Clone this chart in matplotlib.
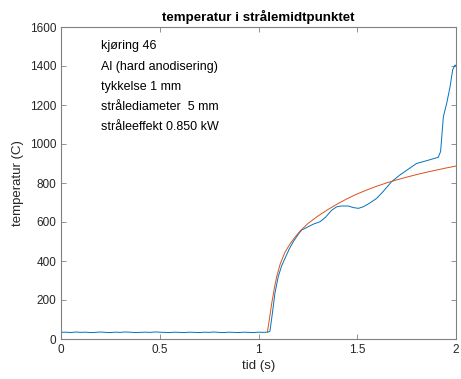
import matplotlib
matplotlib.use('Agg')
import matplotlib.pyplot as plt

plt.rcParams['font.family'] = ['Liberation Sans', 'DejaVu Sans']

# measured temperature (blue)
t_meas = [0.0, 0.025, 0.05, 0.075, 0.1, 0.125, 0.15, 0.175, 0.2, 0.225, 0.25, 0.275,
          0.3, 0.325, 0.35, 0.375, 0.4, 0.425, 0.45, 0.475, 0.5, 0.525, 0.55, 0.575,
          0.6, 0.625, 0.65, 0.675, 0.7, 0.725, 0.75, 0.775, 0.8, 0.825, 0.85, 0.875,
          0.9, 0.925, 0.95, 0.975, 1.0, 1.025, 1.05,
          1.058, 1.07, 1.083, 1.1, 1.117, 1.134, 1.155, 1.176, 1.2, 1.219, 1.25, 1.28,
          1.311, 1.34, 1.37, 1.396, 1.42, 1.455, 1.48, 1.506, 1.53, 1.56, 1.598, 1.63,
          1.674, 1.716, 1.75, 1.8, 1.85, 1.91, 1.922, 1.936, 1.953, 1.97, 1.983, 1.995, 2.0]
T_meas = [34, 35, 33, 36, 34, 35, 33, 34, 36, 34, 33, 35,
          34, 36, 35, 33, 34, 35, 34, 36, 35, 34, 33, 35,
          34, 33, 35, 34, 33, 35, 34, 36, 34, 33, 35, 34,
          33, 35, 34, 33, 35, 34, 36,
          40, 130, 234, 320, 375, 413, 460, 499, 535, 559, 575, 590,
          601, 625, 660, 678, 682, 682, 674, 670, 678, 695, 721, 755,
          807, 841, 865, 900, 914, 932, 961, 1140, 1209, 1294, 1380, 1405, 1400]

# model curve (red)
t_model = [1.045, 1.055, 1.067, 1.08, 1.092, 1.11, 1.134, 1.16, 1.185, 1.21, 1.25,
           1.3, 1.35, 1.4, 1.45, 1.5, 1.55, 1.6, 1.65, 1.7, 1.75, 1.8, 1.85, 1.9,
           1.95, 2.0]
T_model = [35, 100, 183, 260, 319, 385, 445, 488, 523, 553, 592,
           630, 663, 693, 720, 744, 765, 784, 801, 816, 830, 843, 855, 866,
           877, 887]

notes = ['kjøring 46', 'Al (hard anodisering)', 'tykkelse 1 mm',
         'strålediameter  5 mm', 'stråleeffekt 0.850 kW']

fig = plt.figure(figsize=(4.61, 3.79), dpi=100)
ax = fig.add_axes([61/461, 40/379, 395/461, 312/379])

ax.plot(t_meas, T_meas, color=(0, 0.447, 0.741), lw=0.7)
ax.plot(t_model, T_model, color=(0.85, 0.325, 0.098), lw=0.7)

ax.set_xlim(0, 2)
ax.set_ylim(0, 1600)
ax.set_xticks([0, 0.5, 1, 1.5, 2])
ax.set_xticklabels(['0', '0.5', '1', '1.5', '2'])
ax.set_yticks(range(0, 1601, 200))

grey = '#262626'
for s in ax.spines.values():
    s.set_color('#808080')
    s.set_linewidth(0.8)
ax.tick_params(direction='in', top=True, right=True, length=3.5, width=0.6,
               colors='#808080', labelcolor=grey, labelsize=8.5)

ax.set_xlabel('tid (s)', fontsize=9.5, color=grey, labelpad=3)
ax.set_ylabel('temperatur (C)', fontsize=9.5, color=grey, labelpad=4)
ax.set_title('temperatur i strålemidtpunktet', fontsize=9.6, fontweight='bold',
             color='black', pad=4)

for i, s in enumerate(notes):
    ax.text(0.2, 1500 - i * 103, s, fontsize=9, color='black', va='center')

fig.savefig('out.png', dpi=100)
